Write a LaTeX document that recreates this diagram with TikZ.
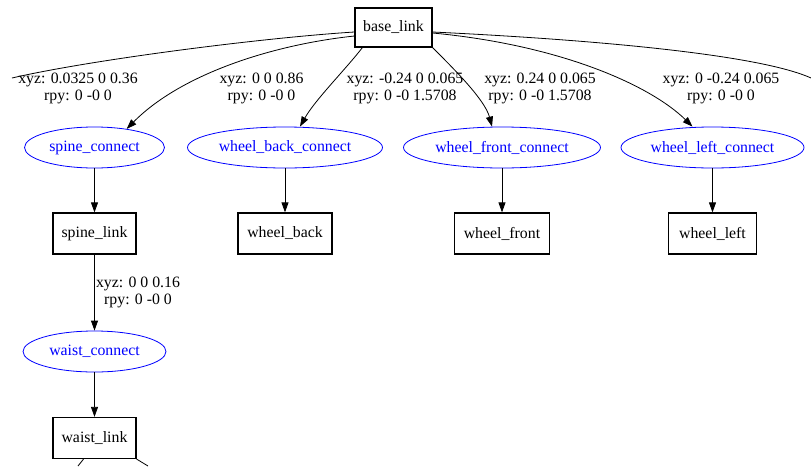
\documentclass[tikz,border=0pt]{standalone}
\usepackage{fontspec}
\setmainfont{Liberation Serif}
\usetikzlibrary{arrows.meta, shapes.geometric, calc}

\begin{document}
\begin{tikzpicture}[x=1pt, y=-1pt,
    font=\fontsize{15.8}{17}\selectfont,
    link/.style={draw, line width=1.2pt, minimum height=41pt, inner sep=0pt},
    joint/.style={draw=blue, text=blue, ellipse, line width=0.8pt, minimum height=41pt, inner sep=0pt},
    tf/.style={align=center, inner sep=0pt},
    edge/.style={line width=0.8pt, -{Triangle[length=10pt, width=7pt]}}]
  \useasboundingbox (0,0) rectangle (811,466);

  % links
  \node[link, minimum width=77pt, minimum height=39pt] (base) at (393.5,27.5) {base\_link};
  \node[link, minimum width=83pt] (spl) at (94.5,233.5) {spine\_link};
  \node[link, minimum width=94pt] (wb) at (285,233.5) {wheel\_back};
  \node[link, minimum width=95pt] (wf) at (502,233.5) {wheel\_front};
  \node[link, minimum width=88pt] (wl) at (712.5,233.5) {wheel\_left};
  \node[link, minimum width=83pt] (wal) at (94.5,438) {waist\_link};

  % joints
  \node[joint, minimum width=140pt] (spc) at (94.5,147.5) {spine\_connect};
  \node[joint, minimum width=195pt] (wbc) at (285,147.5) {wheel\_back\_connect};
  \node[joint, minimum width=197pt] (wfc) at (502,147.5) {wheel\_front\_connect};
  \node[joint, minimum width=183pt] (wlc) at (712.5,147.5) {wheel\_left\_connect};
  \node[joint, minimum width=143pt] (wac) at (94.5,351.5) {waist\_connect};

  % loose ends
  \coordinate (offl) at (12,78);
  \coordinate (offr) at (811,78);
  \coordinate (offa) at (78,466);
  \coordinate (offb) at (148,466);

  % edges from base_link
  \draw[line width=0.8pt] ($(base.west)+(0,4.5)$) .. controls (260,38) and (90,60) .. (offl);
  \draw[edge] ($(base.west)+(0,8.5)$) .. controls (270,45) and (180,75) .. (spc.30);
  \draw[edge] ($(base.south west)+(8,0)$) .. controls (345,70) and (315,100) .. ($(wbc.north)+(15,0)$);
  \draw[edge] ($(base.south east)+(0,0)$) .. controls (455,70) and (485,100) .. ($(wfc.north)+(-10,0)$);
  \draw[edge] ($(base.east)+(0,5.5)$) .. controls (560,45) and (650,85) .. ($(wlc.north)+(-20,0)$);
  \draw[line width=0.8pt] ($(base.east)+(0,4.5)$) .. controls (600,40) and (760,55) .. (offr);

  % straight edges
  \begin{scope}[edge]
    \draw (spc) -- (spl);
    \draw (wbc) -- (wb);
    \draw (wfc) -- (wf);
    \draw (wlc) -- (wl);
    \draw (spl) -- (wac);
    \draw (wac) -- (wal);
  \end{scope}
  \draw[line width=0.8pt] ($(wal.south)+(-11,0)$) -- (offa);
  \draw[line width=0.8pt] ($(wal.south east)+(0,0)$) -- (offb);

  % transforms
  \node[tf] (t0) at (78,88.5) {xyz: 0.0325 0 0.36\\rpy: 0 -0 0};
  \node[tf] (t1) at (261.5,88.5) {xyz: 0 0 0.86\\rpy: 0 -0 0};
  \node[tf] (t2) at (405,88.5) {xyz: -0.24 0 0.065\\rpy: 0 -0 1.5708};
  \node[tf] (t3) at (540,88.5) {xyz: 0.24 0 0.065\\rpy: 0 -0 1.5708};
  \node[tf] (t4) at (721,88.5) {xyz: 0 -0.24 0.065\\rpy: 0 -0 0};
  \node[tf] (t5) at (138,292.5) {xyz: 0 0 0.16\\rpy: 0 -0 0};
\end{tikzpicture}
\end{document}
